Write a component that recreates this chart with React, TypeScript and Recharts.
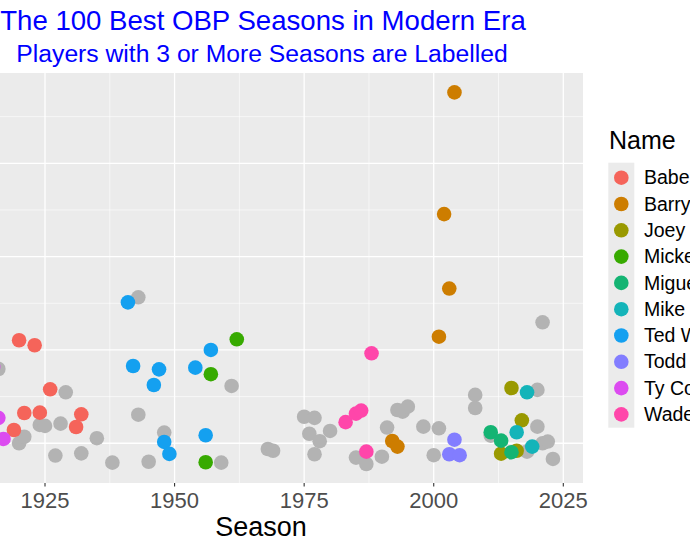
import React from "react";
import { ScatterChart, Scatter, XAxis, YAxis, CartesianGrid } from "recharts";

const FONT = "'Liberation Sans', Arial, Helvetica, sans-serif";

// legend order
const playerNames = [
  "Babe Ruth",
  "Barry Bonds",
  "Joey Votto",
  "Mickey Mantle",
  "Miguel Cabrera",
  "Mike Trout",
  "Ted Williams",
  "Todd Helton",
  "Ty Cobb",
  "Wade Boggs",
];
const playerColors = [
  "#F5645A",
  "#CD7D00",
  "#999900",
  "#37AA00",
  "#14B473",
  "#14B4B9",
  "#14A0F0",
  "#827DFF",
  "#DC4BF0",
  "#FF46AA",
];
const otherColor = "#B3B3B3";

// OBP above league, per season
const ruthSeasons = [1919, 1920, 1921, 1923, 1924, 1926, 1931, 1932];
const ruthValues = [0.1071, 0.1552, 0.1162, 0.1525, 0.1164, 0.1289, 0.1087, 0.1155];
const bondsSeasons = [1992, 1993, 2001, 2002, 2003, 2004];
const bondsValues = [0.1012, 0.0982, 0.1571, 0.2228, 0.1829, 0.288];
const vottoSeasons = [2013, 2015, 2016, 2017];
const vottoValues = [0.0944, 0.1296, 0.096, 0.1123];
const mantleSeasons = [1956, 1957, 1962];
const mantleValues = [0.0898, 0.137, 0.1557];
const cabreraSeasons = [2011, 2013, 2015];
const cabreraValues = [0.1059, 0.1014, 0.0952];
const troutSeasons = [2016, 2018, 2019];
const troutValues = [0.1059, 0.1273, 0.0982];
const williamsSeasons = [1941, 1942, 1946, 1947, 1948, 1949, 1954, 1956, 1957];
const williamsValues = [0.1755, 0.1414, 0.1312, 0.1396, 0.1007, 0.0943, 0.1405, 0.1043, 0.15];
const heltonSeasons = [2003, 2004, 2005];
const heltonValues = [0.0941, 0.1019, 0.0936];
const cobbSeasons = [1915, 1916, 1917];
const cobbValues = [0.141, 0.1136, 0.1023];
const boggsSeasons = [1983, 1985, 1986, 1987, 1988];
const boggsValues = [0.1113, 0.1159, 0.1175, 0.0955, 0.1482];

const otherSeasons = [
  1916, 1920, 1921, 1924, 1925, 1927, 1928, 1929, 1932, 1935, 1938, 1943, 1943, 1945, 1948,
  1959, 1961, 1968, 1969, 1975, 1976, 1977, 1977, 1978, 1980, 1985, 1987, 1990, 1991, 1993,
  1994, 1995, 1998, 2000, 2001, 2008, 2008, 2011, 2018, 2020, 2020, 2021, 2021, 2022, 2023,
];
const otherValues = [
  0.1398, 0.1, 0.1035, 0.1098, 0.1093, 0.0934, 0.1105, 0.1273, 0.0946, 0.1027, 0.0896, 0.1782,
  0.1153, 0.0901, 0.1057, 0.0896, 0.1307, 0.0969, 0.096, 0.1142, 0.1051, 0.1136, 0.0941, 0.1011,
  0.1066, 0.0923, 0.0889, 0.0928, 0.1084, 0.1178, 0.1169, 0.1196, 0.1089, 0.0936, 0.108, 0.1259,
  0.1189, 0.1041, 0.0955, 0.1286, 0.1089, 0.1648, 0.1, 0.1009, 0.0916,
];

const seasonTicks = [1925, 1950, 1975, 2000, 2025];
const seasonMinor = [1912.5, 1937.5, 1962.5, 1987.5, 2012.5];
const valueMajor = [0.1, 0.15, 0.2, 0.25];
const valueMinor = [0.125, 0.175, 0.225, 0.275];

const playerSeasons = [
  ruthSeasons, bondsSeasons, vottoSeasons, mantleSeasons, cabreraSeasons,
  troutSeasons, williamsSeasons, heltonSeasons, cobbSeasons, boggsSeasons,
];
const playerValues = [
  ruthValues, bondsValues, vottoValues, mantleValues, cabreraValues,
  troutValues, williamsValues, heltonValues, cobbValues, boggsValues,
];

const toPoints = (seasons: number[], values: number[]) =>
  seasons.map((s, i) => ({ season: s, value: values[i] }));

const dot = (color: string) => (props: any) =>
  <circle cx={props.cx} cy={props.cy} r={7.3} fill={color} />;

const SeasonTick = ({ x, y, payload }: any) => (
  <text x={x} y={y} dy={19.8} textAnchor="middle" fill="#4D4D4D" fontSize={22} fontFamily={FONT}>
    {payload.value}
  </text>
);

const App = () => {
  return (
    <div
      style={{
        position: "absolute",
        left: 0,
        top: 0,
        width: 690,
        height: 550,
        overflow: "hidden",
        background: "#FFFFFF",
        fontFamily: FONT,
      }}
    >
      {/* panel runs off the left edge, like the cropped original */}
      <div style={{ position: "absolute", left: -60, top: 0 }}>
        <ScatterChart
          width={703}
          height={550}
          margin={{ top: 73, right: 60, bottom: 37, left: 3 }}
        >
          <CartesianGrid
            fill="#EBEBEB"
            stroke="#FFFFFF"
            strokeWidth={0.6}
            horizontalValues={valueMinor}
            verticalValues={seasonMinor}
          />
          <CartesianGrid
            stroke="#FFFFFF"
            strokeWidth={1.3}
            horizontalValues={valueMajor}
            verticalValues={seasonTicks}
          />
          <XAxis
            type="number"
            dataKey="season"
            domain={[1905.32, 2028.8]}
            allowDataOverflow
            ticks={seasonTicks}
            tick={<SeasonTick />}
            tickSize={3.5}
            tickMargin={2}
            tickLine={{ stroke: "#333333", strokeWidth: 1.1 }}
            axisLine={false}
            height={30}
          />
          <YAxis
            type="number"
            dataKey="value"
            domain={[0.0787, 0.2984]}
            allowDataOverflow
            hide
          />
          <Scatter
            data={toPoints(otherSeasons, otherValues)}
            shape={dot(otherColor)}
            isAnimationActive={false}
          />
          {playerNames.map((name, i) => (
            <Scatter
              key={name}
              name={name}
              data={toPoints(playerSeasons[i], playerValues[i])}
              shape={dot(playerColors[i])}
              isAnimationActive={false}
            />
          ))}
        </ScatterChart>
      </div>
      <svg
        width={690}
        height={550}
        style={{ position: "absolute", left: 0, top: 0, pointerEvents: "none" }}
        fontFamily={FONT}
      >
        <text x={263} y={30} textAnchor="middle" fontSize={27.6} fill="#0000FF">
          The 100 Best OBP Seasons in Modern Era
        </text>
        <text x={262} y={62} textAnchor="middle" fontSize={24.7} fill="#0000FF">
          Players with 3 or More Seasons are Labelled
        </text>
        <text x={261} y={536} textAnchor="middle" fontSize={27} fill="#000000">
          Season
        </text>
        <text x={609} y={149.3} fontSize={25} fill="#000000">
          Name
        </text>
        <rect x={608.3} y={162.7} width={26} height={265} fill="#EBEBEB" />
        {playerNames.map((name, i) => (
          <g key={name}>
            <circle cx={621.3} cy={177.7 + i * 26.3} r={7.3} fill={playerColors[i]} />
            <text x={644} y={184.3 + i * 26.3} fontSize={19.5} fill="#000000">
              {name}
            </text>
          </g>
        ))}
      </svg>
    </div>
  );
};

export default App;
